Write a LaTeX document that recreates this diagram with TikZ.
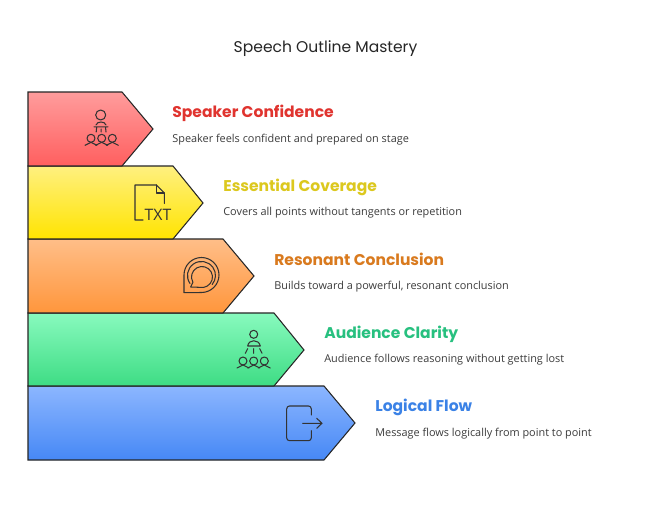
\documentclass[tikz,border=0pt]{standalone}
\usepackage{fontspec}
\setmainfont{Open Sans}
\newfontfamily\headfont{Poppins}
\usetikzlibrary{positioning}
\usetikzlibrary{arrows.meta}
\definecolor{myred}{HTML}{E0342F}
\definecolor{myyellow}{HTML}{DCC81E}
\definecolor{myorange}{HTML}{D97A1E}
\definecolor{mygreen}{HTML}{27C07F}
\definecolor{myblue}{HTML}{3B82E6}
\definecolor{mygray}{HTML}{3C3C3C}
\definecolor{redtop}{HTML}{FF9C9C}
\definecolor{redbot}{HTML}{FF5F5F}
\definecolor{yeltop}{HTML}{FFF080}
\definecolor{yelbot}{HTML}{FFE400}
\definecolor{oratop}{HTML}{FFBE88}
\definecolor{orabot}{HTML}{FF963C}
\definecolor{gretop}{HTML}{88FABE}
\definecolor{grebot}{HTML}{3EDC84}
\definecolor{blutop}{HTML}{8CB6FF}
\definecolor{blubot}{HTML}{4688F5}
\tikzset{
    band/.style = {draw=black!85, line width=0.6pt, line join=miter},
    bandr/.style = {band, top color=redtop, bottom color=redbot},
    bandy/.style = {band, top color=yeltop, bottom color=yelbot},
    bando/.style = {band, top color=oratop, bottom color=orabot},
    bandg/.style = {band, top color=gretop, bottom color=grebot},
    bandb/.style = {band, top color=blutop, bottom color=blubot},
    icon/.style = {draw=black!80, line width=0.6pt, line cap=round, line join=round},
    head/.style = {anchor=west, inner sep=0pt, font=\headfont\bfseries\fontsize{8.85}{10}\selectfont},
    body/.style = {anchor=west, inner sep=0pt, text=mygray, font=\fontsize{6.2}{8}\selectfont},
    title/.style = {inner sep=0pt, text=black!85, font=\headfont\fontsize{8.85}{10}\selectfont},
    person/.pic = {
      \draw[icon] (0,0) circle (4);
      \draw[icon] (-6,7) .. controls (-3,7) and (-3,4) .. (0,4) .. controls (3,4) and (3,7) .. (6,7);
    }
}
\begin{document}
\begin{tikzpicture}[x=0.02cm,y=-0.02cm]
  \useasboundingbox (0,0) rectangle (650,507);
  \fill[white] (0,0) rectangle (650,507);

  \node[title] (tmain) at (325.5,49) {Speech Outline Mastery};

  % bands
  \draw[bandb] (28,386) -- (324,386) -- (355,423) -- (324,460) -- (28,460) -- cycle;
  \draw[bandg] (28,313) -- (274,313) -- (304,350) -- (274,386) -- (28,386) -- cycle;
  \draw[bando] (28,239) -- (223,239) -- (254,276) -- (223,313) -- (28,313) -- cycle;
  \draw[bandy] (28,166) -- (173,166) -- (203,203) -- (173,239) -- (28,239) -- cycle;
  \draw[bandr] (28,92) -- (122,92) -- (153,129) -- (122,166) -- (28,166) -- cycle;

  % labels
  \node[head,text=myred] (h1) at (172,113.5) {Speaker Confidence};
  \node[body] (b1) at (172,139.5) {Speaker feels confident and prepared on stage};
  \node[head,text=myyellow] (h2) at (223,187) {Essential Coverage};
  \node[body] (b2) at (223,213) {Covers all points without tangents or repetition};
  \node[head,text=myorange] (h3) at (274,259.5) {Resonant Conclusion};
  \node[body] (b3) at (274,286.5) {Builds toward a powerful, resonant conclusion};
  \node[head,text=mygreen] (h4) at (324,334) {Audience Clarity};
  \node[body] (b4) at (324,360) {Audience follows reasoning without getting lost};
  \node[head,text=myblue] (h5) at (375,407) {Logical Flow};
  \node[body] (b5) at (375,433.5) {Message flows logically from point to point};

  % speaker icon
  \draw[icon] (100.7,115) circle (5);
  \draw[icon] (96,125) .. controls (97,121) and (105,121) .. (106,125);
  \draw[icon] (94,126.8) -- (108,126.8) (96.7,126.8) -- (96.2,132) (105.5,126.8) -- (106,132) (101.2,129) -- (101.2,132);
  \pic at (91,138.3) {person};
  \pic at (101.7,138.3) {person};
  \pic at (112.3,138.3) {person};

  % txt icon
  \draw[icon] (143,220) -- (135,220) -- (135,185) -- (156.5,185) -- (164.3,193) -- (164.3,203.5);
  \draw[icon] (156.5,185) -- (156.5,193) -- (164.3,193);
  \node[inner sep=0pt,text=black!80,font=\fontsize{9}{10}\selectfont] (ttxt) at (158,214.5) {TXT};

  % bubble icon
  \draw[icon] (184,292.7) -- (184,275) arc (180:450:17.5) -- cycle;
  \draw[icon] (190.7,287) -- (192.9,282.25) arc (150:460:10.5) -- cycle;
  \draw[icon] (190,283.5) arc (145:400:14);

  % audience icon
  \draw[icon] (253.7,334.3) circle (4);
  \draw[icon] (247.7,346) .. controls (248.5,339) and (259,339) .. (260.3,346) -- cycle;
  \draw[icon] (247.7,348.7) -- (245.3,353.3) (253.7,348.7) -- (253.7,353.3) (259.7,348.7) -- (262,353.3);
  \pic at (243,361) {person};
  \pic at (253.7,361) {person};
  \pic at (264.3,361) {person};

  % exit icon
  \draw[icon,rounded corners=1.6pt] (311.3,415) -- (311.3,406) -- (286.7,406) -- (286.7,440.7) -- (311.3,440.7) -- (311.3,430.7);
  \draw[icon] (302.7,423.3) -- (322,423.3) (316.7,418.3) -- (322,423.3) -- (316.7,428.3);
\end{tikzpicture}
\end{document}
